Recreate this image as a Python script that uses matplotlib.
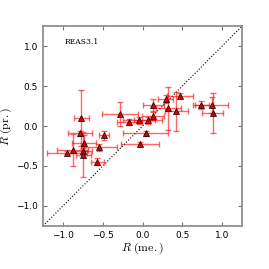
import numpy as np
import matplotlib
matplotlib.use("Agg")
import matplotlib.pyplot as plt

r_me = [-0.946, -0.88, -0.79, -0.767, -0.74, -0.75, -0.742, -0.57, -0.546, -0.483,
        -0.283, -0.167, -0.04, 0.07, 0.04, -0.037, 0.13, 0.137, 0.288, 0.325,
        0.425, 0.47, 0.737, 0.867, 0.879]
r_pr = [-0.333, -0.30, -0.09, 0.096, -0.21, -0.31, -0.358, -0.446, -0.267, -0.117,
        0.154, 0.05, 0.07, 0.07, -0.09, -0.225, 0.13, 0.263, 0.333, 0.22,
        0.183, 0.38, 0.263, 0.258, 0.163]
r_me_err = [0.25, 0.2, 0.15, 0.1, 0.15, 0.12, 0.1, 0.08, 0.23, 0.06,
            0.23, 0.16, 0.2, 0.18, 0.28, 0.24, 0.14, 0.13, 0.1, 0.16,
            0.14, 0.16, 0.1, 0.21, 0.13]
r_pr_err = [0.02, 0.2, 0.03, 0.35, 0.1, 0.04, 0.28, 0.04, 0.04, 0.06,
            0.15, 0.04, 0.04, 0.04, 0.03, 0.03, 0.05, 0.08, 0.05, 0.27,
            0.24, 0.03, 0.05, 0.1, 0.25]
ticks = [-1.0, -0.5, 0.0, 0.5, 1.0]
label = "REAS3.1"

plt.rcParams["mathtext.fontset"] = "cm"

fig = plt.figure(figsize=(2.69, 2.69), dpi=100)
ax = fig.add_axes([0.16, 0.16, 0.74, 0.743])

ax.plot([-1.25, 1.25], [-1.25, 1.25], "k:", lw=0.8)
ax.errorbar(r_me, r_pr, xerr=r_me_err, yerr=r_pr_err, fmt="none",
            ecolor="red", alpha=0.6, elinewidth=1.0, capsize=2.5, capthick=1.0)
ax.plot(r_me, r_pr, "^", color="#dd0000", mec="k", mew=0.5, ms=4, ls="none")

ax.text(-0.98, 1.03, label, family="DejaVu Serif", fontsize=5.5)

ax.set_xlim(-1.25, 1.25)
ax.set_ylim(-1.25, 1.25)
ax.set_xticks(ticks)
ax.set_yticks(ticks)
ax.tick_params(direction="in", top=True, right=True, labelsize=6.5, length=3,
               color="#777777")
for s in ax.spines.values():
    s.set_color("#888888")
    s.set_linewidth(1.2)
ax.set_xlabel(r"$R\ (\mathrm{me.})$", fontsize=8.5)
ax.set_ylabel(r"$R\ (\mathrm{pr.})$", fontsize=8.5)
ax.xaxis.set_label_coords(0.5, -0.075)
ax.yaxis.set_label_coords(-0.145, 0.5)

fig.savefig("out.png", dpi=100)
